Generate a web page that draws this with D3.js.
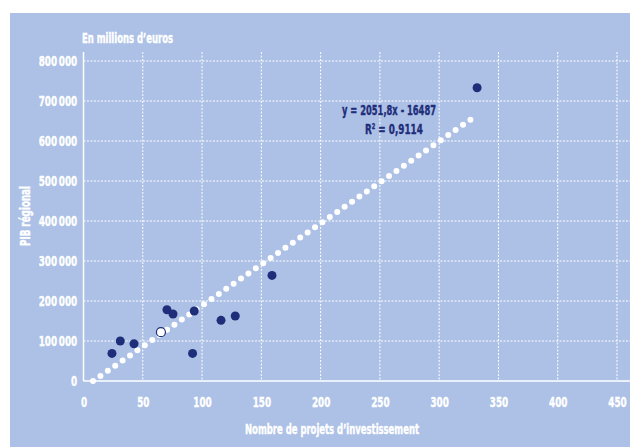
<!DOCTYPE html>
<html>
<head>
<meta charset="utf-8">
<script src="https://cdn.jsdelivr.net/npm/d3@7"></script>
<style>
body { margin: 0; background: #fff; }
text { font-family: "DejaVu Sans Condensed", "Liberation Sans Narrow", sans-serif; font-weight: bold; }
</style>
</head>
<body>
<script>
let width = 630;
let height = 447;

// projets d'investissement / PIB regional (millions d'euros)
let projets = [24, 31, 42.6, 65.3, 70.4, 75.5, 93.4, 92, 116, 128, 159, 332];
let pib = [69000, 100000, 93000, 122000, 178000, 167500, 175000, 69000, 151700, 162500, 264000, 733000];
let xTicks = [0, 50, 100, 150, 200, 250, 300, 350, 400, 450];
let yTicks = [0, 100000, 200000, 300000, 400000, 500000, 600000, 700000, 800000];
let pente = 2051.8;
let origine = -16487;

let navy = '#1f2e7a';
let squeeze = 0.7;

let x = d3.scaleLinear().domain([0, 450]).range([83.5, 617]);
let y = d3.scaleLinear().domain([0, 800000]).range([381, 61]);

let svg = d3.select('body')
.append('svg')
.attr('width', width)
.attr('height', height);

svg.append('rect')
.attr('x', 10)
.attr('y', 13)
.attr('width', width - 10)
.attr('height', height - 13)
.attr('fill', '#adc1e6');

let fmt = function(d){
    return d3.format(',')(d).replace(/,/g, '\u2009');
};

// grille
let grid = svg.append('g');
grid.selectAll('.gy')
.data(yTicks.filter(d => d > 0))
.enter()
.append('line')
.attr('x1', x(0))
.attr('x2', width)
.attr('y1', d => y(d))
.attr('y2', d => y(d))
.attr('stroke', '#fff')
.attr('stroke-width', 1)
.attr('stroke-dasharray', '2 1.5');

grid.selectAll('.gx')
.data(xTicks.filter(d => d > 0))
.enter()
.append('line')
.attr('x1', d => x(d))
.attr('x2', d => x(d))
.attr('y1', 52)
.attr('y2', y(0))
.attr('stroke', '#fff')
.attr('stroke-width', 1)
.attr('stroke-dasharray', '2 1.5');

// axes
let xAxis = svg.append('g')
.attr('transform', 'translate(0,' + y(0) + ')')
.call(d3.axisBottom(x).tickValues(xTicks).tickSize(0).tickPadding(16));
xAxis.select('.domain').remove();
xAxis.append('line').attr('x1', x(0)).attr('x2', width).attr('stroke', '#fff').attr('stroke-width', 1.5);

let yAxis = svg.append('g')
.attr('transform', 'translate(' + x(0) + ',0)')
.call(d3.axisLeft(y).tickValues(yTicks).tickFormat(fmt).tickSize(0).tickPadding(9));
yAxis.select('.domain').remove();
yAxis.append('line').attr('y1', 52).attr('y2', y(0)).attr('stroke', '#fff').attr('stroke-width', 1.5);

svg.selectAll('.tick text')
.attr('fill', '#fff')
.attr('stroke', '#fff')
.attr('stroke-width', 0.4)
.attr('font-size', 14)
.attr('transform', 'scale(' + squeeze + ',1)')
.style('font-family', '"DejaVu Sans Condensed", sans-serif')
.style('font-weight', 'bold');

// tendance
let x0 = -origine / pente;
let x1 = d3.max(projets);
svg.append('line')
.attr('x1', x(x0))
.attr('y1', y(pente * x0 + origine))
.attr('x2', x(x1))
.attr('y2', y(pente * x1 + origine))
.attr('stroke', '#fff')
.attr('stroke-width', 6)
.attr('stroke-linecap', 'round')
.attr('stroke-dasharray', '0 9');

// points
svg.append('g')
.selectAll('circle')
.data(projets)
.enter()
.append('circle')
.attr('cx', (d, i) => x(d))
.attr('cy', (d, i) => y(pib[i]))
.attr('r', 4.5)
.attr('fill', (d, i) => i == 3 ? '#fff' : navy)
.attr('stroke', navy)
.attr('stroke-width', (d, i) => i == 3 ? 1.2 : 0);

// textes
function label(txt, px, py, w, color, anchor){
    return svg.append('text')
    .attr('x', px)
    .attr('y', py)
    .attr('text-anchor', anchor || 'start')
    .attr('fill', color)
    .attr('stroke', color)
    .attr('stroke-width', 0.4)
    .attr('font-size', 14)
    .attr('textLength', w)
    .attr('lengthAdjust', 'spacingAndGlyphs')
    .text(txt);
}

label('En millions d\u2019euros', 82, 43, 91, '#fff');
label('Nombre de projets d\u2019investissement', 332, 434, 174, '#fff', 'middle');
label('PIB r\u00e9gional', 0, 0, 60, '#fff', 'middle')
.attr('transform', 'translate(30,216) rotate(-90)');
label('y = 2051,8x - 16487', 389, 115, 94, navy, 'middle');

let r2 = svg.append('text')
.attr('x', 365)
.attr('y', 134)
.attr('fill', navy)
.attr('stroke', navy)
.attr('stroke-width', 0.4)
.attr('font-size', 14)
.attr('transform', 'translate(365,0) scale(' + squeeze + ',1) translate(-365,0)');
r2.append('tspan').text('R');
r2.append('tspan').attr('dy', -5).attr('font-size', 8).text('2');
r2.append('tspan').attr('dy', 5).text(' = 0,9114');
</script>
</body>
</html>
